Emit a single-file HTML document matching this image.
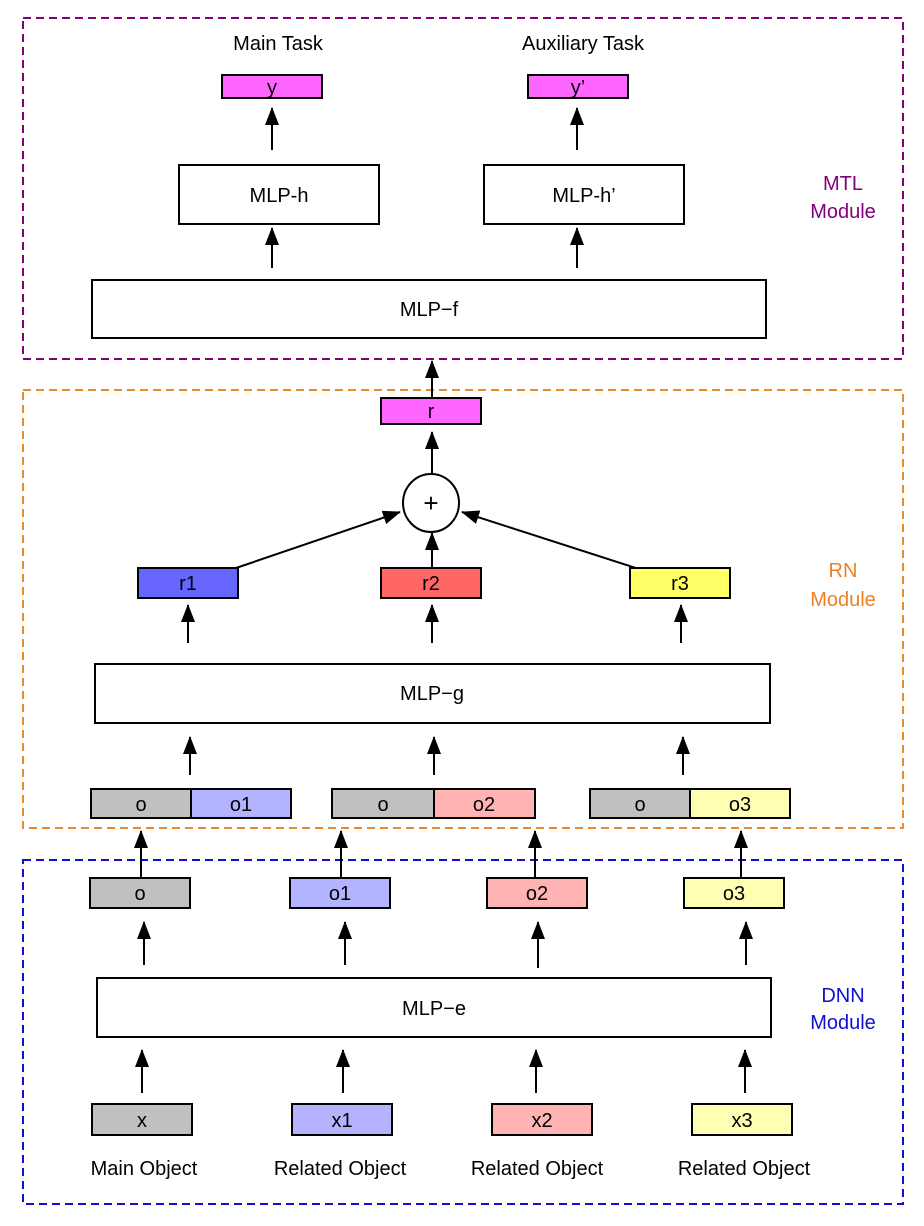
<!DOCTYPE html>
<html><head><meta charset="utf-8"><style>
html,body{margin:0;padding:0;background:#fff}
svg{display:block}
text{font-family:"Liberation Sans",Arial,sans-serif;font-size:20px;fill:#000}
</style></head><body>
<svg width="924" height="1226" viewBox="0 0 924 1226" xmlns="http://www.w3.org/2000/svg">
<defs>
<marker id="a" markerWidth="18" markerHeight="14" refX="17" refY="7" orient="auto" markerUnits="userSpaceOnUse">
<path d="M0,0 L18,7 L0,14 z" fill="#000"/></marker>
</defs>
<rect x="23" y="18" width="880" height="341" fill="none" stroke="#800080" stroke-width="2" stroke-dasharray="8,5"/>
<rect x="23" y="390" width="880" height="438" fill="none" stroke="#e88a2e" stroke-width="2" stroke-dasharray="8,5"/>
<rect x="23" y="860" width="880" height="344" fill="none" stroke="#1010d0" stroke-width="2" stroke-dasharray="8,5"/>
<text x="843" y="190" text-anchor="middle" style="fill:#800080">MTL</text>
<text x="843" y="218" text-anchor="middle" style="fill:#800080">Module</text>
<text x="843" y="577" text-anchor="middle" style="fill:#ee8020">RN</text>
<text x="843" y="606" text-anchor="middle" style="fill:#ee8020">Module</text>
<text x="843" y="1002" text-anchor="middle" style="fill:#1010d0">DNN</text>
<text x="843" y="1029" text-anchor="middle" style="fill:#1010d0">Module</text>

<g stroke="#000" stroke-width="2">
<rect x="222" y="75" width="100" height="23" fill="#ff66ff"/>
<rect x="528" y="75" width="100" height="23" fill="#ff66ff"/>
<rect x="179" y="165" width="200" height="59" fill="#fff"/>
<rect x="484" y="165" width="200" height="59" fill="#fff"/>
<rect x="92" y="280" width="674" height="58" fill="#fff"/>
<rect x="381" y="398" width="100" height="26" fill="#ff66ff"/>
<ellipse cx="431" cy="503" rx="28" ry="29" fill="#fff"/>
<rect x="138" y="568" width="100" height="30" fill="#6666ff"/>
<rect x="381" y="568" width="100" height="30" fill="#ff6666"/>
<rect x="630" y="568" width="100" height="30" fill="#ffff66"/>
<rect x="95" y="664" width="675" height="59" fill="#fff"/>
<rect x="91" y="789" width="100" height="29" fill="#c0c0c0"/>
<rect x="191" y="789" width="100" height="29" fill="#b3b3ff"/>
<rect x="332" y="789" width="102" height="29" fill="#c0c0c0"/>
<rect x="434" y="789" width="101" height="29" fill="#ffb3b3"/>
<rect x="590" y="789" width="100" height="29" fill="#c0c0c0"/>
<rect x="690" y="789" width="100" height="29" fill="#ffffb3"/>
<rect x="90" y="878" width="100" height="30" fill="#c0c0c0"/>
<rect x="290" y="878" width="100" height="30" fill="#b3b3ff"/>
<rect x="487" y="878" width="100" height="30" fill="#ffb3b3"/>
<rect x="684" y="878" width="100" height="30" fill="#ffffb3"/>
<rect x="97" y="978" width="674" height="59" fill="#fff"/>
<rect x="92" y="1104" width="100" height="31" fill="#c0c0c0"/>
<rect x="292" y="1104" width="100" height="31" fill="#b3b3ff"/>
<rect x="492" y="1104" width="100" height="31" fill="#ffb3b3"/>
<rect x="692" y="1104" width="100" height="31" fill="#ffffb3"/>
</g>

<g stroke="#000" stroke-width="2" marker-end="url(#a)">
<line x1="272" y1="150" x2="272" y2="108"/>
<line x1="577" y1="150" x2="577" y2="108"/>
<line x1="272" y1="268" x2="272" y2="228"/>
<line x1="577" y1="268" x2="577" y2="228"/>
<line x1="432" y1="398" x2="432" y2="361"/>
<line x1="432" y1="474" x2="432" y2="432"/>
<line x1="236" y1="568" x2="400" y2="512"/>
<line x1="636" y1="568" x2="462" y2="512"/>
<line x1="432" y1="568" x2="432" y2="533"/>
<line x1="188" y1="643" x2="188" y2="605"/>
<line x1="432" y1="643" x2="432" y2="605"/>
<line x1="681" y1="643" x2="681" y2="605"/>
<line x1="190" y1="775" x2="190" y2="737"/>
<line x1="434" y1="775" x2="434" y2="737"/>
<line x1="683" y1="775" x2="683" y2="737"/>
<line x1="141" y1="878" x2="141" y2="831"/>
<line x1="341" y1="878" x2="341" y2="831"/>
<line x1="535" y1="878" x2="535" y2="831"/>
<line x1="741" y1="878" x2="741" y2="831"/>
<line x1="144" y1="965" x2="144" y2="922"/>
<line x1="345" y1="965" x2="345" y2="922"/>
<line x1="538" y1="968" x2="538" y2="922"/>
<line x1="746" y1="965" x2="746" y2="922"/>
<line x1="142" y1="1093" x2="142" y2="1050"/>
<line x1="343" y1="1093" x2="343" y2="1050"/>
<line x1="536" y1="1093" x2="536" y2="1050"/>
<line x1="745" y1="1093" x2="745" y2="1050"/>
</g>

<g text-anchor="middle">
<text x="278" y="50">Main Task</text>
<text x="583" y="50">Auxiliary Task</text>
<text x="272" y="94">y</text>
<text x="578" y="94">y’</text>
<text x="279" y="202">MLP-h</text>
<text x="584" y="202">MLP-h’</text>
<text x="429" y="316">MLP−f</text>
<text x="431" y="418">r</text>
<text x="431" y="512" style="font-size:26px">+</text>
<text x="188" y="590">r1</text>
<text x="431" y="590">r2</text>
<text x="680" y="590">r3</text>
<text x="432" y="700">MLP−g</text>
<text x="141" y="811">o</text>
<text x="241" y="811">o1</text>
<text x="383" y="811">o</text>
<text x="484" y="811">o2</text>
<text x="640" y="811">o</text>
<text x="740" y="811">o3</text>
<text x="140" y="900">o</text>
<text x="340" y="900">o1</text>
<text x="537" y="900">o2</text>
<text x="734" y="900">o3</text>
<text x="434" y="1015">MLP−e</text>
<text x="142" y="1127">x</text>
<text x="342" y="1127">x1</text>
<text x="542" y="1127">x2</text>
<text x="742" y="1127">x3</text>
<text x="144" y="1175">Main Object</text>
<text x="340" y="1175">Related Object</text>
<text x="537" y="1175">Related Object</text>
<text x="744" y="1175">Related Object</text>
</g>
</svg>
</body></html>
